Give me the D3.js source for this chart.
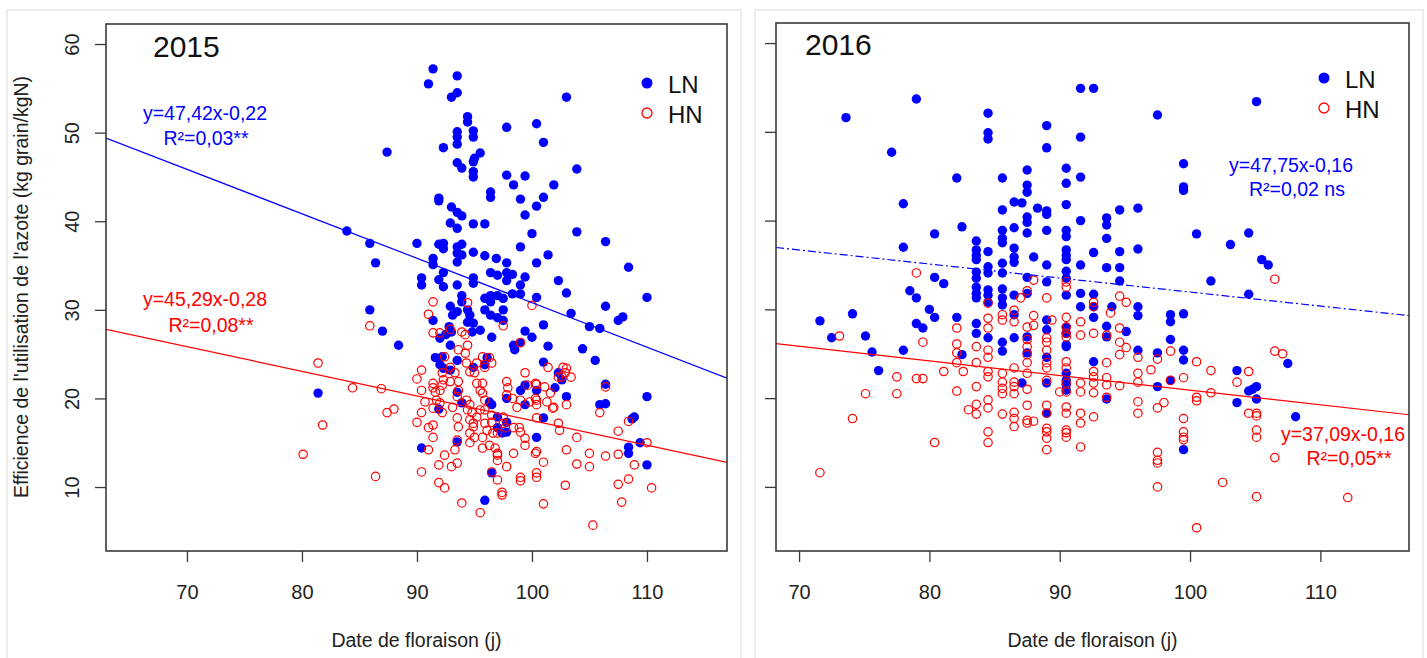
<!DOCTYPE html>
<html>
<head>
<meta charset="utf-8">
<script src="https://cdn.jsdelivr.net/npm/d3@7"></script>
<style>
  html, body { margin: 0; padding: 0; background: #fff; }
  svg text { font-family: "Liberation Sans", Arial, sans-serif; }
</style>
</head>
<body>
<svg id="chart" width="1427" height="658"></svg>
<script>
// Efficience de l'utilisation de l'azote vs date de floraison, 2015 / 2016
// values: [date (j), efficience]

const ln2015 = [
  [91.4,57.2],[91.0,55.5],[93.5,56.4],[93.0,54.0],[93.5,54.5],[103.0,54.0],[94.4,51.8],[94.4,51.2],[97.8,50.6],[100.4,51.0],
  [93.5,50.1],[93.5,49.5],[93.5,48.7],[94.9,50.2],[94.9,49.5],[92.3,48.3],[101.0,48.9],[87.4,47.8],[95.5,47.7],[95.0,47.1],
  [94.9,46.7],[93.5,46.6],[93.9,46.0],[94.9,45.6],[94.9,45.0],[97.8,45.2],[99.4,45.1],[103.9,45.9],[98.4,44.1],[101.9,44.1],
  [96.4,43.3],[96.4,42.7],[101.0,42.7],[99.0,42.5],[100.4,41.7],[91.9,42.6],[91.9,42.3],[93.0,41.6],[93.5,41.0],[93.9,40.6],
  [99.4,40.7],[92.9,39.8],[93.5,39.2],[94.9,39.7],[95.9,39.7],[103.9,38.8],[100.0,38.6],[106.4,37.7],[83.9,38.9],[85.9,37.5],
  [90.0,37.5],[91.9,37.4],[92.3,37.5],[92.3,36.9],[93.5,37.1],[93.9,37.4],[93.5,36.4],[93.9,36.2],[93.5,35.4],[94.9,36.5],
  [95.9,36.1],[96.9,35.8],[99.0,37.1],[101.4,36.2],[86.4,35.3],[91.4,35.8],[91.4,35.1],[97.8,35.3],[100.4,35.3],[108.4,34.8],
  [92.3,34.2],[90.4,33.6],[90.4,32.8],[91.9,33.4],[92.3,32.6],[93.5,32.8],[94.9,33.6],[94.9,33.0],[96.4,34.2],[97.0,33.9],
  [97.8,34.2],[98.3,34.0],[97.8,33.3],[99.4,33.7],[99.0,32.8],[102.3,33.3],[103.0,31.9],[98.3,31.8],[99.0,31.8],[100.4,31.4],
  [110.0,31.4],[93.9,31.6],[93.9,30.9],[92.9,30.4],[93.5,29.8],[95.9,31.3],[96.4,31.6],[97.0,31.6],[97.5,31.3],[96.4,30.9],
  [95.9,30.0],[96.4,29.4],[97.0,29.1],[97.5,28.8],[97.5,30.0],[106.4,30.4],[103.4,29.6],[107.5,28.8],[107.9,29.2],[105.0,28.1],
  [105.9,27.9],[85.9,30.0],[91.4,28.8],[93.1,29.4],[94.4,30.0],[94.6,29.4],[94.4,28.6],[94.9,28.5],[87.0,27.6],[92.8,28.1],
  [93.0,27.5],[92.5,27.2],[94.8,27.5],[95.5,27.7],[96.5,26.9],[99.4,27.6],[100.0,26.9],[101.0,28.3],[88.4,26.0],[92.0,26.8],
  [92.9,26.0],[91.6,24.6],[92.2,24.7],[92.0,23.8],[92.3,23.4],[92.9,23.2],[93.5,24.3],[94.9,23.5],[95.9,23.8],[96.1,24.6],
  [98.4,26.0],[98.5,25.5],[99.0,26.3],[101.4,25.9],[101.0,24.1],[102.3,22.9],[102.6,22.1],[102.0,21.2],[103.0,20.2],[99.4,21.5],
  [100.4,20.9],[99.0,20.9],[97.8,20.0],[96.3,19.6],[96.5,19.3],[93.9,19.5],[93.5,20.7],[91.9,18.8],[99.4,19.3],[101.0,17.8],
  [97.0,17.9],[97.0,16.7],[97.4,16.1],[97.8,17.3],[97.8,16.2],[100.4,15.6],[93.5,15.1],[90.4,14.4],[96.5,11.6],[95.9,8.5],
  [81.4,20.6],[104.4,25.6],[105.5,24.3],[106.4,21.6],[105.9,19.3],[106.4,19.4],[108.9,17.9],[108.7,17.7],[110.0,20.2],[109.4,15.0],
  [108.4,14.5],[108.4,13.8],[110.0,12.5]
];

const hn2015 = [
  [81.4,24.0],[81.8,17.0],[80.1,13.7],[84.4,21.2],[85.9,28.2],[86.4,11.2],[86.9,21.1],[87.4,18.4],[88.0,18.8],[90.0,22.2],
  [90.0,17.3],[90.4,23.2],[90.4,20.9],[90.4,18.4],[90.4,11.7],[91.0,29.5],[91.4,30.9],[90.7,19.6],[91.0,16.7],[91.4,17.0],
  [91.4,15.6],[91.0,14.2],[91.4,21.7],[91.6,20.7],[91.4,21.2],[92.0,20.9],[91.7,19.8],[91.4,18.9],[92.0,19.5],[92.2,21.5],
  [92.2,18.4],[91.4,27.4],[92.0,27.4],[92.4,24.7],[92.9,23.5],[92.2,22.9],[92.3,22.1],[92.9,27.8],[93.9,27.5],[94.2,27.2],
  [93.6,25.5],[94.2,25.1],[94.4,26.0],[94.3,24.0],[94.6,23.0],[93.6,21.9],[93.6,20.9],[92.9,21.9],[93.3,22.9],[93.5,20.2],
  [93.1,19.0],[93.5,17.8],[93.6,16.8],[93.5,15.3],[93.3,14.2],[93.0,12.3],[93.5,12.7],[91.9,12.5],[92.4,13.6],[91.9,10.5],
  [92.4,9.9],[93.9,8.2],[95.5,7.1],[94.4,30.8],[94.3,19.8],[94.6,19.3],[94.4,18.7],[94.8,18.4],[94.6,17.6],[94.9,16.8],
  [94.6,16.1],[95.0,15.6],[94.6,15.0],[95.0,22.9],[95.2,24.0],[95.7,24.7],[95.9,23.5],[96.3,24.6],[96.5,24.0],[95.2,21.7],
  [95.5,20.9],[95.7,20.6],[95.7,21.7],[95.9,19.8],[95.9,18.7],[95.5,18.7],[95.2,17.9],[94.9,17.2],[95.9,17.2],[96.1,16.4],
  [95.7,15.6],[95.7,14.4],[96.3,14.7],[96.8,14.4],[97.0,13.6],[97.0,13.0],[96.5,11.7],[97.0,10.8],[97.8,12.3],[99.0,11.1],
  [99.0,10.7],[97.4,9.4],[97.4,9.1],[99.4,15.5],[99.4,14.7],[100.4,11.6],[100.4,11.1],[101.0,12.8],[101.0,8.1],[100.4,14.0],
  [98.4,13.8],[98.9,16.7],[99.0,16.2],[99.4,22.9],[99.6,21.5],[97.8,21.9],[97.9,21.2],[97.8,20.4],[98.3,20.0],[98.7,19.0],
  [99.8,19.6],[100.3,20.0],[100.4,19.3],[101.3,19.6],[101.8,18.9],[101.6,20.6],[100.3,21.7],[101.1,21.3],[101.4,23.5],[102.6,22.4],
  [102.7,23.5],[102.9,22.9],[102.3,17.2],[102.4,16.4],[102.9,10.2],[103.0,14.2],[96.5,18.1],[96.5,17.3],[97.5,17.2],[97.7,16.7],
  [97.5,17.9],[96.6,16.1],[97.0,16.1],[97.5,28.2],[100.0,30.5],[99.0,26.3],[103.0,19.3],[103.0,23.4],[103.4,22.4],[102.3,22.4],
  [101.9,19.0],[100.4,21.6],[100.4,19.8],[99.0,19.8],[98.4,16.7],[100.4,17.8],[97.0,13.8],[105.3,5.7],[107.5,10.3],[107.8,8.3],
  [108.4,10.9],[108.9,12.5],[110.4,9.9],[106.4,13.5],[107.5,13.7],[110.0,15.0],[107.5,16.3],[108.4,17.4],[105.9,18.4],[105.0,13.8],
  [105.0,12.3],[103.9,15.6],[103.9,12.6],[100.3,13.8],[106.4,21.3]
];

const ln2016 = [
  [73.6,51.6],[79.0,53.7],[77.1,47.7],[84.5,52.1],[84.5,49.9],[84.5,49.2],[89.0,50.7],[89.0,48.2],[82.1,44.8],[85.6,44.8],
  [87.5,45.7],[87.5,44.0],[87.5,43.2],[90.5,45.9],[90.5,44.2],[90.5,41.8],[78.0,41.9],[78.0,37.0],[80.4,38.5],[82.5,39.3],
  [85.6,41.2],[86.5,42.1],[87.1,42.0],[88.3,41.4],[87.5,40.4],[87.5,39.8],[87.5,38.6],[89.0,41.1],[89.0,40.7],[89.0,38.9],
  [85.6,38.9],[85.6,38.0],[85.6,37.5],[86.5,39.2],[83.6,37.7],[83.6,36.7],[83.6,36.1],[83.6,35.6],[84.5,36.5],[86.5,36.9],
  [86.5,35.9],[86.5,35.3],[88.0,35.9],[89.0,35.0],[85.6,35.2],[90.5,38.9],[90.5,38.2],[90.5,36.7],[90.5,36.1],[90.5,35.6],
  [90.5,34.3],[80.4,33.6],[81.1,32.9],[78.5,32.1],[79.0,31.3],[80.0,30.0],[80.4,29.1],[82.1,29.1],[83.6,34.2],[83.6,33.5],
  [83.6,32.5],[83.6,31.8],[83.6,31.3],[84.5,34.8],[84.5,34.1],[84.5,32.2],[84.5,31.6],[84.5,30.8],[85.6,34.1],[85.6,32.3],
  [85.6,31.3],[85.6,30.5],[86.5,31.6],[87.5,33.6],[87.5,31.8],[89.0,33.1],[90.5,33.5],[90.5,31.6],[71.6,28.7],[74.1,29.5],
  [79.0,28.4],[79.5,27.9],[83.6,28.4],[83.6,27.3],[72.5,26.8],[75.1,27.0],[75.6,25.2],[76.1,23.1],[78.0,25.4],[82.5,24.9],
  [84.5,26.8],[85.6,26.3],[85.6,25.3],[86.5,26.8],[87.1,21.7],[87.5,26.9],[87.5,25.1],[89.0,28.8],[89.0,27.7],[89.0,24.6],
  [89.0,21.7],[89.0,18.3],[90.5,28.0],[90.5,26.0],[90.5,22.8],[90.5,22.0],[90.5,20.9],[86.5,29.4],[91.6,54.9],[92.6,54.9],
  [105.1,53.4],[97.5,51.9],[91.6,49.4],[91.6,44.9],[99.5,46.4],[99.5,43.8],[99.5,43.4],[91.6,40.0],[93.6,40.3],[93.6,39.5],
  [94.6,41.2],[96.0,41.4],[93.6,38.0],[100.5,38.5],[103.1,37.3],[104.5,38.6],[105.5,35.6],[106.0,35.0],[92.6,36.4],[94.6,36.5],
  [96.0,36.8],[91.6,35.0],[93.6,34.7],[94.6,34.7],[94.6,33.2],[101.6,33.2],[104.5,31.7],[91.6,31.8],[92.6,31.7],[91.6,30.3],
  [92.6,30.3],[92.6,29.1],[94.0,30.3],[96.0,30.3],[96.0,29.3],[98.5,29.4],[98.5,28.6],[99.5,29.5],[93.6,28.1],[93.6,26.9],
  [95.1,27.5],[96.0,25.4],[97.5,25.1],[98.5,26.6],[99.5,25.4],[99.5,24.3],[90.5,27.3],[90.5,25.8],[92.6,24.1],[90.5,21.5],
  [107.5,23.9],[103.6,23.1],[104.5,20.8],[104.8,21.0],[105.1,21.3],[103.6,19.5],[105.1,19.9],[97.5,21.3],[98.5,22.0],[93.6,19.9],
  [108.1,17.9],[99.5,14.2]
];

const hn2016 = [
  [73.1,27.0],[74.1,17.7],[75.1,20.5],[71.6,11.6],[77.5,22.4],[77.5,20.5],[79.0,22.2],[79.5,22.2],[79.5,26.3],[80.4,15.0],
  [81.1,23.0],[79.0,34.1],[82.1,27.9],[82.1,26.1],[82.1,25.1],[82.1,24.0],[82.1,20.8],[82.6,23.0],[83.0,18.7],[83.6,25.8],
  [83.6,24.0],[83.6,21.3],[83.6,19.3],[83.6,18.2],[84.5,30.7],[84.5,29.0],[84.5,27.9],[84.5,25.4],[84.5,24.6],[84.5,23.0],
  [84.5,22.4],[84.5,19.8],[84.5,18.9],[84.5,16.2],[84.5,15.0],[85.6,29.4],[85.6,28.8],[85.6,22.8],[85.6,21.8],[85.6,21.1],
  [85.6,20.5],[85.6,18.2],[86.5,29.9],[86.5,28.6],[86.5,23.4],[86.5,21.8],[86.5,21.3],[86.5,20.5],[86.5,18.4],[86.5,17.7],
  [86.5,16.8],[87.5,32.1],[87.5,28.0],[87.5,26.6],[87.5,25.8],[87.5,24.9],[87.5,24.0],[87.5,22.8],[87.5,21.0],[87.5,19.2],
  [87.5,17.5],[87.5,17.2],[87.0,31.3],[88.0,33.3],[88.0,29.3],[88.0,17.4],[88.0,28.2],[89.0,31.3],[89.0,26.8],[89.0,26.3],
  [89.0,25.4],[89.0,24.0],[89.0,23.4],[89.0,22.0],[89.0,19.2],[89.0,18.3],[89.0,16.6],[89.0,16.2],[89.0,15.5],[89.0,14.2],
  [89.4,28.8],[90.0,20.7],[90.5,33.1],[90.5,32.5],[90.5,29.1],[90.5,28.0],[90.5,27.3],[90.5,26.9],[90.5,24.1],[90.5,23.4],
  [90.5,21.7],[90.5,20.7],[90.5,19.0],[90.5,18.3],[90.5,16.4],[90.5,16.1],[90.5,15.6],[91.6,28.6],[91.6,27.1],[91.6,21.7],
  [91.6,20.7],[91.6,18.3],[91.6,17.2],[91.6,14.5],[92.6,30.8],[92.6,30.3],[92.6,27.3],[92.6,23.0],[92.6,22.4],[92.6,21.7],
  [92.6,20.6],[92.6,17.9],[93.6,27.1],[93.6,24.0],[93.6,22.3],[93.6,21.5],[93.6,20.1],[93.9,29.6],[94.6,31.5],[94.6,27.9],
  [94.6,26.3],[94.6,24.9],[94.6,21.4],[95.1,30.8],[95.1,25.7],[96.0,24.6],[96.0,22.8],[96.0,21.8],[96.0,19.6],[96.0,18.3],
  [97.0,23.2],[97.5,24.4],[97.5,18.9],[97.5,13.9],[97.5,13.0],[97.5,12.7],[97.5,10.0],[98.0,19.5],[98.5,25.3],[98.5,22.0],
  [99.5,22.3],[99.5,17.7],[99.5,16.2],[99.5,15.6],[99.5,15.3],[100.5,24.1],[100.5,20.1],[100.5,19.7],[100.5,5.4],[101.6,23.1],
  [101.6,20.6],[102.5,10.5],[103.6,21.8],[104.5,23.0],[104.5,18.3],[105.1,18.3],[105.1,18.0],[105.1,16.4],[105.1,15.6],[105.1,8.9],
  [106.5,33.4],[106.5,25.3],[107.1,25.0],[106.5,13.3],[112.1,8.8]
];

// fitted lines as drawn: [intercept, slope]
const fitLN2015 = [81.0, -0.502];
const fitHN2015 = [45.3, -0.278];
const fitLN2016 = [47.75, -0.158];
const fitHN2016 = [37.4, -0.165];

// equation labels
const eqLN2015 = ["y=47,42x-0,22", "R²=0,03**"];
const eqHN2015 = ["y=45,29x-0,28", "R²=0,08**"];
const eqLN2016 = ["y=47,75x-0,16", "R²=0,02 ns"];
const eqHN2016 = ["y=37,09x-0,16", "R²=0,05**"];

const xTicks = [70, 80, 90, 100, 110];
const yTicks = [10, 20, 30, 40, 50, 60];
const seriesNames = ["LN", "HN"];

const BLUE = "#0000ff";
const RED = "#ff0000";
const AXIS = "#3a3a3a";

const svg = d3.select("#chart");
svg.append("rect").attr("width", 1427).attr("height", 658).attr("fill", "#fff");

// light card outlines behind each plot
[[7, 734], [755, 668]].forEach(([x, w]) => {
  svg.append("rect")
    .attr("x", x).attr("y", 10).attr("width", w).attr("height", 700)
    .attr("fill", "#fff").attr("stroke", "#ededed").attr("stroke-width", 2);
});

function drawPanel(p) {
  const x = d3.scaleLinear().domain(p.xDomain).range([p.left, p.right]);
  const y = d3.scaleLinear().domain([2.78, 62.26]).range([p.bottom, p.top]);
  const g = svg.append("g");

  // x axis
  const gx = g.append("g")
    .attr("transform", `translate(0,${p.bottom})`)
    .call(d3.axisBottom(x).tickValues(xTicks).tickSize(11).tickPadding(23));
  gx.select(".domain").remove();
  gx.selectAll("line").attr("stroke", AXIS).attr("stroke-width", 1.3);
  gx.selectAll("text").attr("font-size", 20).attr("fill", "#222")
    .attr("font-family", "Liberation Sans, Arial, sans-serif");

  // y axis (rotated labels, R style)
  const gy = g.append("g")
    .attr("transform", `translate(${p.left},0)`)
    .call(d3.axisLeft(y).tickValues(yTicks).tickSize(11)
      .tickFormat(p.yLabels ? d3.format("d") : ""));
  gy.select(".domain").remove();
  gy.selectAll("line").attr("stroke", AXIS).attr("stroke-width", 1.3);
  gy.selectAll("text")
    .attr("transform", "rotate(-90)")
    .attr("x", 0).attr("y", -27).attr("dy", 0)
    .attr("text-anchor", "middle")
    .attr("font-size", 20).attr("fill", "#222")
    .attr("font-family", "Liberation Sans, Arial, sans-serif");

  // clip for regression lines
  const clipId = "clip" + p.year;
  g.append("clipPath").attr("id", clipId).append("rect")
    .attr("x", p.left).attr("y", p.top)
    .attr("width", p.right - p.left).attr("height", p.bottom - p.top);

  const plot = g.append("g").attr("clip-path", `url(#${clipId})`);

  // LN first, HN drawn on top
  plot.selectAll(".ln").data(p.ln).join("circle")
    .attr("class", "ln")
    .attr("cx", d => x(d[0])).attr("cy", d => y(d[1]))
    .attr("r", 4.7).attr("fill", BLUE);

  plot.selectAll(".hn").data(p.hn).join("circle")
    .attr("class", "hn")
    .attr("cx", d => x(d[0])).attr("cy", d => y(d[1]))
    .attr("r", 4.2).attr("fill", "none").attr("stroke", RED).attr("stroke-width", 1.2);

  // regression lines
  const [x0, x1] = p.xDomain;
  p.fits.forEach(f => {
    plot.append("line")
      .attr("x1", x(x0)).attr("y1", y(f.ab[0] + f.ab[1] * x0))
      .attr("x2", x(x1)).attr("y2", y(f.ab[0] + f.ab[1] * x1))
      .attr("stroke", f.color).attr("stroke-width", 1.2)
      .attr("stroke-dasharray", f.dash || null);
  });

  // box
  g.append("rect")
    .attr("x", p.left).attr("y", p.top)
    .attr("width", p.right - p.left).attr("height", p.bottom - p.top)
    .attr("fill", "none").attr("stroke", AXIS).attr("stroke-width", 1.6);

  // year title
  g.append("text")
    .attr("x", p.titleX).attr("y", p.titleY)
    .attr("font-size", 30).attr("fill", "#111")
    .text(p.year);

  // legend
  p.legend.forEach((lg, i) => {
    const cy = lg.y;
    if (i === 0) {
      g.append("circle").attr("cx", lg.x).attr("cy", cy).attr("r", 5.5).attr("fill", BLUE);
    } else {
      g.append("circle").attr("cx", lg.x).attr("cy", cy).attr("r", 5)
        .attr("fill", "none").attr("stroke", RED).attr("stroke-width", 1.3);
    }
    g.append("text")
      .attr("x", lg.x + 21).attr("y", cy + 10)
      .attr("font-size", 24).attr("fill", "#111")
      .text(seriesNames[i]);
  });

  // equation labels
  p.eqs.forEach(e => {
    e.lines.forEach((t, i) => {
      g.append("text")
        .attr("x", e.cx[i]).attr("y", e.y[i])
        .attr("text-anchor", "middle")
        .attr("font-size", 19.5).attr("fill", e.color)
        .text(t);
    });
  });

  // x title
  g.append("text")
    .attr("x", (p.left + p.right) / 2).attr("y", 647)
    .attr("text-anchor", "middle")
    .attr("font-size", 19.5).attr("fill", "#222")
    .text("Date de floraison (j)");
}

drawPanel({
  year: "2015", left: 106, right: 727, top: 24, bottom: 551,
  xDomain: [62.96, 116.96], yLabels: true,
  ln: ln2015, hn: hn2015,
  fits: [{ ab: fitLN2015, color: BLUE }, { ab: fitHN2015, color: RED }],
  titleX: 153, titleY: 57,
  legend: [{ x: 647, y: 83 }, { x: 647, y: 113 }],
  eqs: [
    { lines: eqLN2015, color: BLUE, cx: [205, 206], y: [120, 145] },
    { lines: eqHN2015, color: RED, cx: [205, 211], y: [306, 332] }
  ]
});

drawPanel({
  year: "2016", left: 776, right: 1409, top: 23, bottom: 551,
  xDomain: [68.23, 116.8], yLabels: false,
  ln: ln2016, hn: hn2016,
  fits: [{ ab: fitLN2016, color: BLUE, dash: "8,3,2,3" }, { ab: fitHN2016, color: RED }],
  titleX: 805, titleY: 55,
  legend: [{ x: 1324, y: 78 }, { x: 1324, y: 108 }],
  eqs: [
    { lines: eqLN2016, color: BLUE, cx: [1291, 1297], y: [172, 196] },
    { lines: eqHN2016, color: RED, cx: [1343, 1349], y: [441, 465] }
  ]
});

// shared y title
svg.append("text")
  .attr("transform", "translate(28,287) rotate(-90)")
  .attr("text-anchor", "middle")
  .attr("font-size", 19.5).attr("fill", "#222")
  .text("Efficience de l'utilisation de l'azote (kg grain/kgN)");
</script>
</body>
</html>
